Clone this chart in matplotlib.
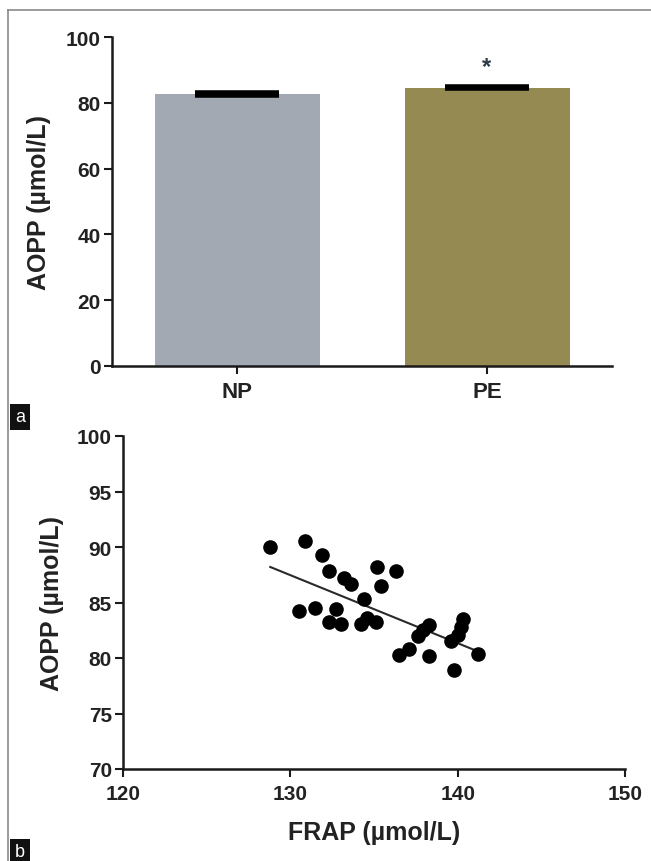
import matplotlib
matplotlib.use("Agg")
import matplotlib.pyplot as plt
from matplotlib.lines import Line2D

plt.rcParams["font.family"] = ["Liberation Sans", "DejaVu Sans"]
plt.rcParams["font.weight"] = "bold"

# --- DATA ---
# panel a: AOPP means per group (bar), SEM as thick cap
groups = ["NP", "PE"]
aopp_mean = [82.7, 84.6]
aopp_sem = [0.25, 0.25]
sig_marks = ["", "*"]

# panel b: FRAP vs AOPP scatter
frap = [128.8, 130.9, 131.9, 132.3, 133.2, 133.6, 135.2, 136.3, 135.4, 134.4,
        130.5, 131.5, 132.7, 132.3, 133.0, 134.2, 135.1, 134.6, 137.6, 137.9,
        138.3, 136.5, 137.1, 138.3, 139.8, 140.3, 140.2, 140.0, 139.6, 141.2]
aopp = [90.0, 90.5, 89.3, 87.8, 87.2, 86.7, 88.2, 87.8, 86.5, 85.3,
        84.2, 84.5, 84.4, 83.2, 83.1, 83.1, 83.2, 83.6, 82.0, 82.5,
        83.0, 80.3, 80.8, 80.2, 78.9, 83.5, 82.8, 82.1, 81.5, 80.4]
# regression line end points
fit_frap = [128.8, 141.2]
fit_aopp = [88.2, 80.6]

bar_colors = ["#a3a9b3", "#958a52"]

W, H = 651, 862
fig = plt.figure(figsize=(W / 100, H / 100), dpi=100)

def px_axes(left, top, right, bottom):
    return fig.add_axes([left / W, 1 - bottom / H, (right - left) / W, (bottom - top) / H])

def style_axes(ax, xsize=15):
    for s in ["top", "right"]:
        ax.spines[s].set_visible(False)
    for s in ["left", "bottom"]:
        ax.spines[s].set_linewidth(1.8)
        ax.spines[s].set_color("#1a1a1a")
    ax.tick_params(direction="out", length=6, width=1.5, color="#1a1a1a", labelsize=15)
    ax.tick_params(axis="y", pad=2)
    ax.tick_params(axis="x", pad=5, labelsize=xsize)
    for lab in ax.get_xticklabels() + ax.get_yticklabels():
        lab.set_fontweight("bold")
        lab.set_color("#222222")

# --- PANEL a: bar chart ---
ax1 = px_axes(112, 38, 612, 367)
x_pos = list(range(len(groups)))
ax1.bar(x_pos, aopp_mean, width=0.66, color=bar_colors, zorder=2)
ax1.errorbar(x_pos, aopp_mean, yerr=aopp_sem, fmt="none",
             ecolor="black", elinewidth=2, capsize=30, capthick=4, zorder=3)
for x, m, s, mark in zip(x_pos, aopp_mean, aopp_sem, sig_marks):
    if mark:
        ax1.text(x, m + s + 6.2, mark, ha="center", va="center", fontsize=17,
                 color="#2d3a48", fontweight="bold")
ax1.set_xlim(-0.5, 1.5)
ax1.set_ylim(0, 100)
ax1.set_yticks([0, 20, 40, 60, 80, 100])
ax1.set_xticks(x_pos)
ax1.set_xticklabels(groups)
ax1.set_ylabel("AOPP (µmol/L)", fontsize=18, fontweight="bold", color="#222222", labelpad=11)
style_axes(ax1, xsize=16)

# --- PANEL b: scatter with regression line ---
ax2 = px_axes(123, 437, 625, 770)
ax2.scatter(frap, aopp, s=90, color="black", zorder=3)
ax2.plot(fit_frap, fit_aopp, color="#2a2a2a", linewidth=1.5, zorder=2)
ax2.set_xlim(120, 150)
ax2.set_ylim(70, 100)
ax2.set_xticks([120, 130, 140, 150])
ax2.set_yticks([70, 75, 80, 85, 90, 95, 100])
ax2.set_xlabel("FRAP (µmol/L)", fontsize=18, fontweight="bold", color="#222222", labelpad=12)
ax2.set_ylabel("AOPP (µmol/L)", fontsize=18, fontweight="bold", color="#222222", labelpad=9)
style_axes(ax2)

# --- frame and panel letters ---
fig.add_artist(Line2D([8 / W, 8 / W], [0, 1 - 11 / H], color="#8a8a8a", linewidth=1.2))
fig.add_artist(Line2D([8 / W, 1], [1 - 11 / H, 1 - 11 / H], color="#8a8a8a", linewidth=1.2))
for letter, y in [("a", 418), ("b", 853)]:
    fig.text(20 / W, 1 - y / H, letter, ha="center", va="center", fontsize=13,
             fontweight="normal", color="white",
             bbox=dict(boxstyle="square,pad=0.25", facecolor="#111111", edgecolor="none"))

fig.savefig("out.png", dpi=100)
